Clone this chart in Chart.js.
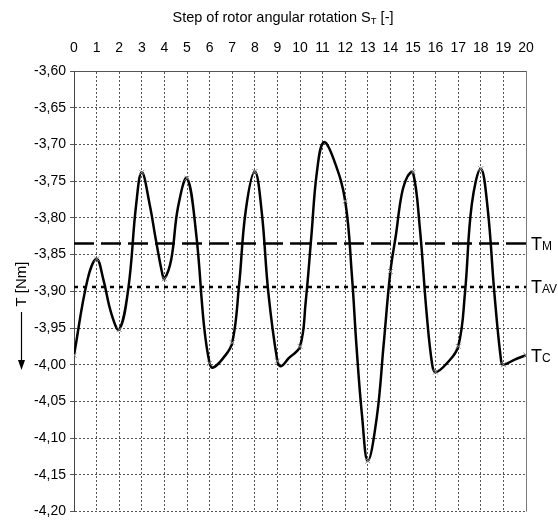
<!DOCTYPE html>
<html>
<head>
<meta charset="utf-8">
<script src="https://cdn.jsdelivr.net/npm/chart.js@4"></script>
<style>
  body { margin: 0; background: #fff; }
  canvas { display: block; }
</style>
</head>
<body>
<canvas id="grafico" width="558" height="524"></canvas>
<script>
// step of rotor rotation and torque
var stepX = [0, 0.6, 1, 1.3, 1.65, 2, 2.4, 2.75, 3, 3.35, 3.6, 3.9, 4, 4.3, 4.6, 5,
    5.4, 5.75, 6, 6.15, 6.6, 7, 7.3, 7.6, 8, 8.3, 8.6, 9, 9.15, 9.5, 10,
    10.25, 10.5, 10.75, 11.05, 11.5, 12, 12.3, 12.5, 12.75, 13, 13.4, 13.7, 14,
    14.25, 14.5, 14.75, 15, 15.3, 15.6, 15.85, 16, 16.5, 17, 17.3, 17.6, 18,
    18.3, 18.6, 18.9, 19, 19.5, 20];
var torque = [-3.987, -3.884, -3.856, -3.884, -3.930, -3.952, -3.897, -3.782, -3.738, -3.782, -3.826, -3.875, -3.883, -3.857, -3.786, -3.746,
    -3.820, -3.946, -3.998, -4.004, -3.991, -3.970, -3.893, -3.790, -3.737, -3.790, -3.902, -3.995, -4.002, -3.991, -3.975,
    -3.915, -3.826, -3.737, -3.697, -3.721, -3.777, -3.880, -3.975, -4.071, -4.131, -4.071, -3.973, -3.873,
    -3.822, -3.768, -3.744, -3.738, -3.813, -3.929, -4.000, -4.010, -3.998, -3.975, -3.902, -3.782, -3.733,
    -3.786, -3.902, -3.995, -4.000, -3.993, -3.987];

var torqueMax = -3.835;   // T_M
var torqueAvg = -3.894;   // T_AV

var xTicks = [0, 1, 2, 3, 4, 5, 6, 7, 8, 9, 10, 11, 12, 13, 14, 15, 16, 17, 18, 19, 20];
var yTicks = [-3.60, -3.65, -3.70, -3.75, -3.80, -3.85, -3.90, -3.95, -4.00, -4.05, -4.10, -4.15, -4.20];

var titulo = 'Step of rotor angular rotation S';
var tituloSub = 'T';
var tituloFim = ' [-]';
var tituloY = 'T [Nm]';
var rotulos = ['M', 'AV', 'C'];

var fonte = '"Liberation Sans", Arial, sans-serif';

function pontos(xs, ys) {
    return xs.map((x, i) => ({ x: x, y: ys[i] }));
}

function linhaHorizontal(valor) {
    return [{ x: xTicks[0], y: valor }, { x: xTicks[xTicks.length - 1], y: valor }];
}

var textos = {
    id: 'textos',
    afterDraw: function(chart) {
        var ctx = chart.ctx;
        var area = chart.chartArea;
        var escalaY = chart.scales.y;
        ctx.save();

        // right border of the plot
        ctx.strokeStyle = '#7a7a7a';
        ctx.lineWidth = 1;
        ctx.beginPath();
        ctx.moveTo(Math.round(area.right) + 0.5, area.top);
        ctx.lineTo(Math.round(area.right) + 0.5, area.bottom);
        ctx.stroke();

        // title with subscript
        ctx.fillStyle = '#000';
        ctx.textBaseline = 'alphabetic';
        ctx.textAlign = 'left';
        ctx.font = '14.5px ' + fonte;
        var w1 = ctx.measureText(titulo).width;
        var w3 = ctx.measureText(tituloFim).width;
        ctx.font = '9.5px ' + fonte;
        var w2 = ctx.measureText(tituloSub).width;
        var x0 = 283 - (w1 + w2 + w3) / 2;
        ctx.font = '14.5px ' + fonte;
        ctx.fillText(titulo, x0, 22);
        ctx.font = '9.5px ' + fonte;
        ctx.fillText(tituloSub, x0 + w1, 24);
        ctx.font = '14.5px ' + fonte;
        ctx.fillText(tituloFim, x0 + w1 + w2, 22);

        // y title, rotated, with arrow pointing down
        ctx.save();
        ctx.translate(22, 284);
        ctx.rotate(-Math.PI / 2);
        ctx.font = '15px ' + fonte;
        ctx.textAlign = 'center';
        ctx.textBaseline = 'middle';
        ctx.fillText(tituloY, 0, 0);
        ctx.restore();
        ctx.strokeStyle = '#000';
        ctx.lineWidth = 1.2;
        ctx.beginPath();
        ctx.moveTo(21.5, 312);
        ctx.lineTo(21.5, 362);
        ctx.stroke();
        ctx.beginPath();
        ctx.moveTo(18, 360);
        ctx.lineTo(25, 360);
        ctx.lineTo(21.5, 370);
        ctx.closePath();
        ctx.fill();

        // labels at the right side
        var valores = [torqueMax, torqueAvg, torque[torque.length - 1]];
        valores.forEach(function(v, i) {
            var y = escalaY.getPixelForValue(v) + 6.5;
            ctx.font = '18px ' + fonte;
            ctx.textAlign = 'left';
            ctx.textBaseline = 'alphabetic';
            ctx.fillText('T', area.right + 5, y);
            var wt = ctx.measureText('T').width;
            ctx.font = '12px ' + fonte;
            ctx.fillText(rotulos[i], area.right + 5 + wt, y);
        });
        ctx.restore();
    }
};

var ctx = document.getElementById('grafico').getContext('2d');
window.grafico = new Chart(ctx, {
    type: 'line',
    data: {
        datasets: [{
            data: pontos(stepX, torque),
            borderColor: '#000',
            borderWidth: 2.5,
            tension: 0.4,
            pointStyle: 'crossRot',
            pointRadius: (c) => Number.isInteger(stepX[c.dataIndex]) ? 3.5 : 0,
            pointBorderColor: '#8a8a8a',
            pointBorderWidth: 1,
            fill: false
        }, {
            data: linhaHorizontal(torqueMax),
            borderColor: '#000',
            borderWidth: 2.5,
            borderDash: [20, 7],
            pointRadius: 0,
            fill: false
        }, {
            data: linhaHorizontal(torqueAvg),
            borderColor: '#000',
            borderWidth: 2.5,
            borderDash: [4, 5],
            pointRadius: 0,
            fill: false
        }]
    },
    options: {
        responsive: false,
        animation: false,
        layout: { padding: { left: 0, top: 0, right: 32, bottom: 4 } },
        plugins: {
            legend: { display: false },
            tooltip: { enabled: false }
        },
        scales: {
            x: {
                type: 'linear',
                position: 'top',
                min: 0,
                max: 20,
                afterBuildTicks: (s) => { s.ticks = xTicks.map((v) => ({ value: v })); },
                afterFit: (s) => { s.height = 71; },
                ticks: {
                    color: '#000',
                    font: { family: fonte, size: 14 },
                    padding: 14,
                    maxRotation: 0,
                    autoSkip: false
                },
                grid: {
                    color: '#555',
                    lineWidth: 1,
                    drawTicks: false
                },
                border: { display: true, color: '#555', width: 1, dash: [2, 2] }
            },
            y: {
                type: 'linear',
                position: 'left',
                min: -4.2,
                max: -3.6,
                afterBuildTicks: (s) => { s.ticks = yTicks.map((v) => ({ value: v })); },
                afterFit: (s) => { s.width = 74; },
                ticks: {
                    color: '#000',
                    font: { family: fonte, size: 14 },
                    padding: 4,
                    autoSkip: false,
                    callback: (v) => v.toFixed(2).replace('.', ',')
                },
                grid: {
                    color: '#555',
                    lineWidth: 1,
                    tickLength: 4
                },
                border: { display: true, color: '#444', width: 1, dash: [2, 2] }
            }
        }
    },
    plugins: [textos]
});
</script>
</body>
</html>
